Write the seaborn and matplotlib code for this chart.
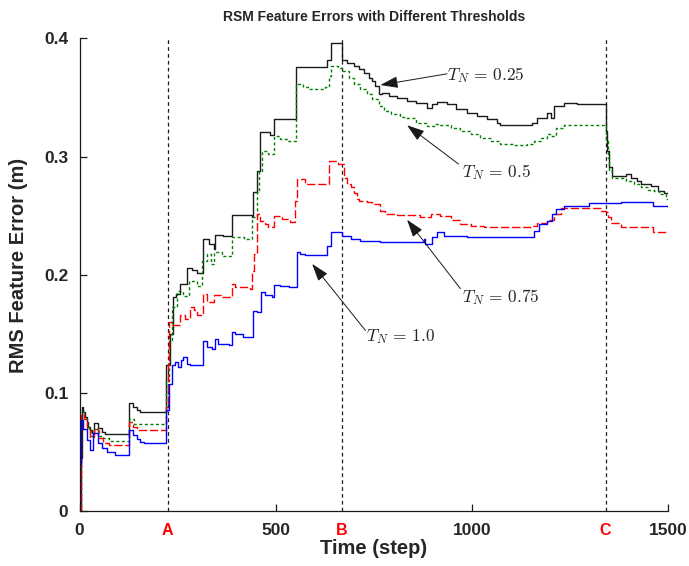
import numpy as np
import pandas as pd
import matplotlib
matplotlib.use("Agg")
import matplotlib.pyplot as plt
import seaborn as sns

# --- data ---
# each series is a step trace: value holds from t[i] until t[i+1]
t_025 = [0, 4, 6, 10, 14, 18, 22, 27, 31, 37, 48, 57, 65, 127, 136, 146, 155,
         221, 231, 238, 246, 255, 274, 286, 299, 314, 329, 342, 346, 367, 388,
         439, 442, 452, 460, 486, 496, 553, 631, 641, 669, 682, 699, 712, 725,
         737, 746, 754, 763, 771, 788, 810, 835, 857, 886, 899, 912, 937, 959,
         988, 1014, 1039, 1065, 1073, 1154, 1167, 1193, 1201, 1210, 1235, 1269,
         1342, 1345, 1350, 1358, 1392, 1405, 1420, 1431, 1456, 1474, 1490, 1500]
v_025 = [0.0, 0.045, 0.088, 0.084, 0.080, 0.0757, 0.0715, 0.0687, 0.066, 0.0745,
         0.0706, 0.0673, 0.0651, 0.0918, 0.0884, 0.0861, 0.0842,
         0.1235, 0.150, 0.181, 0.184, 0.192, 0.206, 0.204, 0.202, 0.230, 0.226,
         0.222, 0.234, 0.233, 0.251, 0.249, 0.270, 0.288, 0.321, 0.318, 0.3315,
         0.376, 0.382, 0.396, 0.382, 0.3793, 0.3765, 0.3737, 0.3708, 0.3666,
         0.3638, 0.3596, 0.3526, 0.354, 0.3512, 0.3498, 0.347, 0.3456, 0.3413,
         0.3442, 0.3463, 0.3442, 0.3399, 0.3371, 0.3343, 0.3315, 0.3287, 0.3267,
         0.3287, 0.3329, 0.3371, 0.3329, 0.3428, 0.3456, 0.3442,
         0.322, 0.305, 0.291, 0.284, 0.285, 0.282, 0.2795, 0.2767, 0.2753,
         0.271, 0.2696, 0.2696]

t_05 = [0, 3, 5, 12, 18, 23, 30, 37, 50, 60, 75, 127, 140,
        221, 227, 235, 249, 265, 278, 300, 312, 325, 335, 342, 363, 388, 420,
        440, 452, 458, 465, 480, 495, 510, 530, 552, 570, 585, 615, 627, 635,
        640, 660, 669, 674, 686, 699, 716, 733, 746, 763, 776, 793, 818, 835,
        857, 886, 903, 920, 946, 971, 997, 1022, 1048, 1073, 1107, 1142, 1158,
        1176, 1193, 1201, 1214, 1235, 1286, 1342, 1346, 1350, 1358, 1367, 1392,
        1414, 1431, 1448, 1465, 1478, 1495, 1500]
v_05 = [0.0, 0.04, 0.084, 0.078, 0.072, 0.068, 0.064, 0.070, 0.064, 0.062,
        0.060, 0.078, 0.0743,
        0.110, 0.145, 0.1728, 0.1867, 0.1825, 0.1952, 0.1910, 0.2120, 0.2176,
        0.2092, 0.2190, 0.2162, 0.2317, 0.2303, 0.2486, 0.270, 0.288, 0.3048,
        0.302, 0.3175, 0.3148, 0.313, 0.3616, 0.359, 0.3568, 0.3575, 0.359,
        0.368, 0.3765, 0.3751, 0.3723, 0.3723, 0.3666, 0.361, 0.3568, 0.3526,
        0.3483, 0.3427, 0.3385, 0.3357, 0.3335, 0.3323, 0.3287, 0.3259, 0.3279,
        0.3267, 0.3245, 0.3217, 0.3188, 0.316, 0.3132, 0.311, 0.3098, 0.3104,
        0.3132, 0.316, 0.3188, 0.3174, 0.3245, 0.3267, 0.3265, 0.3132, 0.2992,
        0.2879, 0.2823, 0.2823, 0.2795, 0.2767, 0.2739, 0.2717, 0.2711, 0.2683,
        0.2641, 0.2641]

t_075 = [0, 3, 5, 12, 18, 26, 37, 48, 60, 75, 127, 136, 146,
         221, 225, 229, 235, 255, 269, 282, 291, 299, 315, 325, 342, 363, 388,
         397, 435, 440, 444, 452, 461, 474, 480, 495, 516, 537, 550, 554, 576,
         635, 660, 674, 682, 691, 699, 708, 712, 733, 746, 767, 780, 810, 869,
         895, 920, 946, 971, 997, 1031, 1150, 1167, 1193, 1210, 1227, 1329, 1342,
         1346, 1354, 1380, 1461, 1500]
v_075 = [0.0, 0.04, 0.0827, 0.078, 0.070, 0.0627, 0.0701, 0.062, 0.058, 0.056,
         0.0757, 0.0715, 0.0693,
         0.0885, 0.1248, 0.160, 0.158, 0.166, 0.163, 0.1727, 0.170, 0.166,
         0.1839, 0.1767, 0.1826, 0.181, 0.1924, 0.1896, 0.188, 0.2036, 0.2176,
         0.2514, 0.2458, 0.243, 0.2402, 0.250, 0.2472, 0.2444, 0.2625, 0.2809,
         0.2772, 0.2963, 0.2935, 0.282, 0.2767, 0.2739, 0.2696, 0.2641, 0.2627,
         0.2613, 0.2599, 0.2543, 0.2515, 0.2508, 0.2487, 0.2515, 0.250, 0.2463,
         0.243, 0.2416, 0.2402, 0.2412, 0.244, 0.246, 0.2514, 0.2564, 0.2542,
         0.2529, 0.2486, 0.2443, 0.2402, 0.2365, 0.2365]

t_10 = [0, 2, 4, 10, 18, 27, 35, 46, 58, 70, 90, 127, 137, 146, 155, 165,
        221, 227, 235, 244, 252, 258, 265, 274, 282, 316, 325, 337, 346, 354,
        380, 389, 397, 418, 442, 452, 463, 474, 491, 497, 512, 533, 555, 563,
        576, 631, 640, 669, 691, 716, 767, 878, 882, 899, 912, 929, 988, 1158,
        1171, 1193, 1205, 1214, 1235, 1299, 1380, 1461, 1500]
v_10 = [0.0, 0.04, 0.077, 0.070, 0.0603, 0.052, 0.066, 0.0575, 0.0533, 0.0505,
        0.048, 0.0687, 0.0645, 0.0617, 0.059, 0.0575,
        0.0861, 0.1081, 0.1235, 0.1263, 0.1221, 0.1277, 0.1306, 0.1249, 0.1235,
        0.1440, 0.1389, 0.1375, 0.1460, 0.1418, 0.1404, 0.1516, 0.1502, 0.1479,
        0.1699, 0.1685, 0.1854, 0.1826, 0.1811, 0.1918, 0.1910, 0.1896, 0.2190,
        0.2177, 0.2171, 0.2248, 0.2362, 0.2333, 0.2304, 0.229, 0.2276, 0.2304,
        0.226, 0.2318, 0.236, 0.2332, 0.2318, 0.2374, 0.243, 0.2458, 0.2515,
        0.2557, 0.2585, 0.2605, 0.2613, 0.2585, 0.2571]

event_steps = [225, 669, 1341]
event_names = ["A", "B", "C"]

series = [
    (t_025, v_025, "k", "-", "0.25"),
    (t_05, v_05, "#008000", (0, (2.2, 1.8)), "0.5"),
    (t_075, v_075, "#ff0000", (0, (6, 2)), "0.75"),
    (t_10, v_10, "#0000ff", "-", "1.0"),
]

# label text position, arrow tail, arrow tip (data coords)
notes = {
    "0.25": ((937, 0.3690), (937, 0.3700), (767, 0.3605)),
    "0.5": ((975, 0.2870), (966, 0.2938), (835, 0.3265)),
    "0.75": ((975, 0.1817), (971, 0.1884), (835, 0.2466)),
    "1.0": ((731, 0.1480), (729, 0.1530), (593, 0.2093)),
}

# --- style ---
sns.set_theme(style="ticks")
plt.rcParams["font.family"] = ["Liberation Sans", "DejaVu Sans"]
plt.rcParams["mathtext.fontset"] = "cm"

fig = plt.figure(figsize=(6.89, 5.66), dpi=100)
ax = fig.add_axes([0.1154, 0.0963, 0.8540, 0.8360])

for t, v, col, ls, name in series:
    df = pd.DataFrame({"Time": t, "Err": v})
    sns.lineplot(data=df, x="Time", y="Err", ax=ax, color=col, linestyle=ls,
                 drawstyle="steps-post", linewidth=1.0, estimator=None,
                 sort=False, legend=False)

for x in event_steps:
    ax.axvline(x, color="k", linestyle=(0, (3, 2.5)), linewidth=0.9, zorder=1)

for name, (txt, tail, tip) in notes.items():
    ax.annotate("", xy=tip, xytext=tail,
                arrowprops=dict(arrowstyle="-|>,head_length=0.9,head_width=0.3",
                                color="k", lw=0.7, shrinkA=0, shrinkB=0))
    ax.text(txt[0], txt[1], r"$T_N\, =\, %s$" % name, fontsize=12.5,
            ha="left", va="center")

ax.set_xlim(0, 1500)
ax.set_ylim(0, 0.4)
ax.set_xticks([0, 500, 1000, 1500])
ax.set_yticks([0, 0.1, 0.2, 0.3, 0.4])
ax.set_xticklabels(["0", "500", "1000", "1500"])
ax.set_yticklabels(["0", "0.1", "0.2", "0.3", "0.4"])
ax.set_xticks(event_steps, labels=event_names, minor=True)
ax.tick_params(axis="both", which="major", direction="in", length=5,
               width=0.9, labelsize=12.5, pad=8, color="k")
ax.tick_params(axis="x", which="minor", length=0, labelsize=11.5,
               labelcolor="red", pad=8)
for lab in ax.get_xticklabels() + ax.get_yticklabels() + ax.get_xticklabels(minor=True):
    lab.set_fontweight("bold")

sns.despine(ax=ax)
for sp in ["left", "bottom"]:
    ax.spines[sp].set_color("k")
    ax.spines[sp].set_linewidth(0.9)

ax.set_xlabel("Time (step)", fontsize=14.5, fontweight="bold", va="center")
ax.xaxis.set_label_coords(0.5, -0.079)
ax.set_ylabel("RMS Feature Error (m)", fontsize=14.5, fontweight="bold", va="center")
ax.yaxis.set_label_coords(-0.103, 0.52)
fig.text(0.5425, 1 - 17 / 566, "RSM Feature Errors with Different Thresholds",
         fontsize=10, fontweight="bold", ha="center", va="center")

fig.savefig("out.png", dpi=100)
